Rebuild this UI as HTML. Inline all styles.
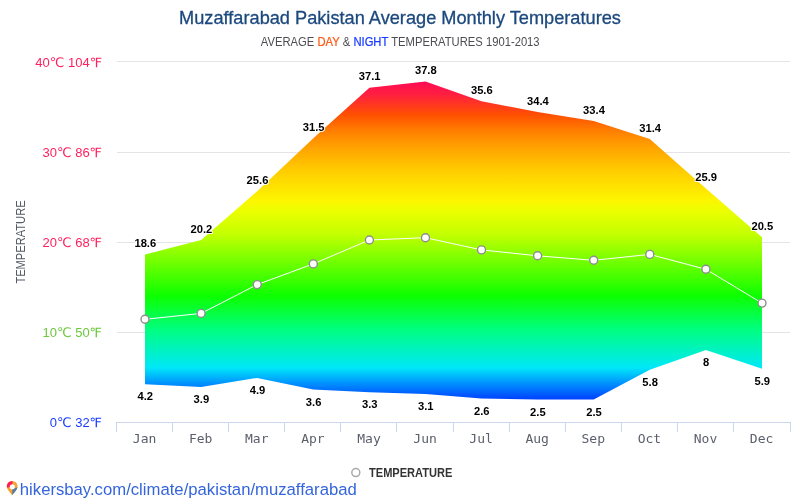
<!DOCTYPE html>
<html><head><meta charset="utf-8"><title>Muzaffarabad Pakistan Average Monthly Temperatures</title>
<style>
html,body{margin:0;padding:0;background:#fff;}
body{width:800px;height:500px;overflow:hidden;position:relative;font-family:"Liberation Sans",sans-serif;}
svg{position:absolute;left:0;top:0;display:block}
text{font-family:"Liberation Sans","DejaVu Sans","Noto Sans CJK SC",sans-serif}
.title{font-size:18.2px;fill:#1b487d;stroke:#1b487d;stroke-width:0.3px}
.sub{font-size:12.4px;fill:#4c4c52}
.yl{font-size:13px;text-anchor:end}
.xl{font-family:"DejaVu Sans Mono","Liberation Mono",monospace;font-size:13px;fill:#5a5f6b;text-anchor:middle}
.dl{font-size:11.2px;font-weight:bold;fill:#000;text-anchor:middle;stroke:#fff;stroke-width:2px;paint-order:stroke;stroke-linejoin:round}
.yt{font-size:12.3px;fill:#555a66;text-anchor:middle}
.lg{font-size:12.3px;font-weight:bold;fill:#333}
.url{font-size:16.7px;fill:#3565dc}
</style></head><body>
<svg width="800" height="500" viewBox="0 0 800 500">
<defs><linearGradient id="g" gradientUnits="userSpaceOnUse" x1="0" y1="81.4" x2="0" y2="399.5">
<stop offset="0" stop-color="#ff0a55"/>
<stop offset="0.042" stop-color="#ff2040"/>
<stop offset="0.105" stop-color="#ff5000"/>
<stop offset="0.155" stop-color="#ff7e00"/>
<stop offset="0.21" stop-color="#ffa400"/>
<stop offset="0.28" stop-color="#ffcc00"/>
<stop offset="0.375" stop-color="#fcf600"/>
<stop offset="0.41" stop-color="#eaff00"/>
<stop offset="0.48" stop-color="#c4ff00"/>
<stop offset="0.675" stop-color="#0cff00"/>
<stop offset="0.78" stop-color="#00ff80"/>
<stop offset="0.9" stop-color="#00e8f8"/>
<stop offset="0.95" stop-color="#0090ff"/>
<stop offset="1" stop-color="#0040ff"/>
</linearGradient></defs>
<rect width="800" height="500" fill="#fff"/>
<path d="M117 61.5H790" stroke="#e4e4e6" stroke-width="1" fill="none"/>
<path d="M117 152.5H790" stroke="#e4e4e6" stroke-width="1" fill="none"/>
<path d="M117 242.5H790" stroke="#e4e4e6" stroke-width="1" fill="none"/>
<path d="M117 332.5H790" stroke="#e4e4e6" stroke-width="1" fill="none"/>
<path d="M116 422.5H791" stroke="#ccd6eb" stroke-width="1" fill="none"/>
<path d="M116.5 422V432" stroke="#ccd6eb" stroke-width="1" fill="none"/>
<path d="M172.5 422V432" stroke="#ccd6eb" stroke-width="1" fill="none"/>
<path d="M228.5 422V432" stroke="#ccd6eb" stroke-width="1" fill="none"/>
<path d="M284.5 422V432" stroke="#ccd6eb" stroke-width="1" fill="none"/>
<path d="M340.5 422V432" stroke="#ccd6eb" stroke-width="1" fill="none"/>
<path d="M396.5 422V432" stroke="#ccd6eb" stroke-width="1" fill="none"/>
<path d="M453.5 422V432" stroke="#ccd6eb" stroke-width="1" fill="none"/>
<path d="M509.5 422V432" stroke="#ccd6eb" stroke-width="1" fill="none"/>
<path d="M565.5 422V432" stroke="#ccd6eb" stroke-width="1" fill="none"/>
<path d="M621.5 422V432" stroke="#ccd6eb" stroke-width="1" fill="none"/>
<path d="M677.5 422V432" stroke="#ccd6eb" stroke-width="1" fill="none"/>
<path d="M733.5 422V432" stroke="#ccd6eb" stroke-width="1" fill="none"/>
<path d="M790.5 422V432" stroke="#ccd6eb" stroke-width="1" fill="none"/>
<path d="M145.0 254.4 L201.1 240.0 L257.2 191.3 L313.3 138.2 L369.4 87.7 L425.5 81.4 L481.5 101.2 L537.6 112.1 L593.7 121.1 L649.8 139.1 L705.9 188.6 L762.0 237.3 L762.0 368.8 L705.9 349.9 L649.8 369.7 L593.7 399.5 L537.6 399.5 L481.5 398.6 L425.5 394.1 L369.4 392.3 L313.3 389.6 L257.2 377.9 L201.1 386.9 L145.0 384.2Z" fill="url(#g)"/>
<path d="M145.0 319.3 L201.1 313.4 L257.2 284.6 L313.3 263.9 L369.4 240.0 L425.5 237.7 L481.5 249.9 L537.6 255.8 L593.7 260.3 L649.8 254.4 L705.9 269.3 L762.0 303.1" fill="none" stroke="#fff" stroke-width="1"/>
<circle cx="145.0" cy="319.3" r="4" fill="#fff" stroke="#8c8c8c" stroke-width="1.4"/>
<circle cx="201.1" cy="313.4" r="4" fill="#fff" stroke="#8c8c8c" stroke-width="1.4"/>
<circle cx="257.2" cy="284.6" r="4" fill="#fff" stroke="#8c8c8c" stroke-width="1.4"/>
<circle cx="313.3" cy="263.9" r="4" fill="#fff" stroke="#8c8c8c" stroke-width="1.4"/>
<circle cx="369.4" cy="240.0" r="4" fill="#fff" stroke="#8c8c8c" stroke-width="1.4"/>
<circle cx="425.5" cy="237.7" r="4" fill="#fff" stroke="#8c8c8c" stroke-width="1.4"/>
<circle cx="481.5" cy="249.9" r="4" fill="#fff" stroke="#8c8c8c" stroke-width="1.4"/>
<circle cx="537.6" cy="255.8" r="4" fill="#fff" stroke="#8c8c8c" stroke-width="1.4"/>
<circle cx="593.7" cy="260.3" r="4" fill="#fff" stroke="#8c8c8c" stroke-width="1.4"/>
<circle cx="649.8" cy="254.4" r="4" fill="#fff" stroke="#8c8c8c" stroke-width="1.4"/>
<circle cx="705.9" cy="269.3" r="4" fill="#fff" stroke="#8c8c8c" stroke-width="1.4"/>
<circle cx="762.0" cy="303.1" r="4" fill="#fff" stroke="#8c8c8c" stroke-width="1.4"/>
<text class="dl" x="145.3" y="247.0">18.6</text>
<text class="dl" x="145.3" y="400.2">4.2</text>
<text class="dl" x="201.4" y="232.6">20.2</text>
<text class="dl" x="201.4" y="402.9">3.9</text>
<text class="dl" x="257.5" y="183.9">25.6</text>
<text class="dl" x="257.5" y="393.9">4.9</text>
<text class="dl" x="313.6" y="130.8">31.5</text>
<text class="dl" x="313.6" y="405.6">3.6</text>
<text class="dl" x="369.7" y="80.3">37.1</text>
<text class="dl" x="369.7" y="408.3">3.3</text>
<text class="dl" x="425.8" y="74.0">37.8</text>
<text class="dl" x="425.8" y="410.1">3.1</text>
<text class="dl" x="481.8" y="93.8">35.6</text>
<text class="dl" x="481.8" y="414.6">2.6</text>
<text class="dl" x="537.9" y="104.7">34.4</text>
<text class="dl" x="537.9" y="415.5">2.5</text>
<text class="dl" x="594.0" y="113.7">33.4</text>
<text class="dl" x="594.0" y="415.5">2.5</text>
<text class="dl" x="650.1" y="131.7">31.4</text>
<text class="dl" x="650.1" y="385.7">5.8</text>
<text class="dl" x="706.2" y="181.2">25.9</text>
<text class="dl" x="706.2" y="365.9">8</text>
<text class="dl" x="762.3" y="229.9">20.5</text>
<text class="dl" x="762.3" y="384.8">5.9</text>
<text class="xl" x="144.6" y="442.5">Jan</text>
<text class="xl" x="200.7" y="442.5">Feb</text>
<text class="xl" x="256.8" y="442.5">Mar</text>
<text class="xl" x="312.9" y="442.5">Apr</text>
<text class="xl" x="369.0" y="442.5">May</text>
<text class="xl" x="425.1" y="442.5">Jun</text>
<text class="xl" x="481.1" y="442.5">Jul</text>
<text class="xl" x="537.2" y="442.5">Aug</text>
<text class="xl" x="593.3" y="442.5">Sep</text>
<text class="xl" x="649.4" y="442.5">Oct</text>
<text class="xl" x="705.5" y="442.5">Nov</text>
<text class="xl" x="761.6" y="442.5">Dec</text>
<text class="yl" x="102" y="66.6" fill="#ff1f5e">40℃ 104℉</text>
<text class="yl" x="102" y="156.7" fill="#ff1f5e">30℃ 86℉</text>
<text class="yl" x="102" y="246.8" fill="#ff1f5e">20℃ 68℉</text>
<text class="yl" x="102" y="336.9" fill="#6cc83c">10℃ 50℉</text>
<text class="yl" x="102" y="427.0" fill="#1a3cff">0℃ 32℉</text>
<text class="title" x="400" y="24" text-anchor="middle">Muzaffarabad Pakistan Average Monthly Temperatures</text>
<text class="sub" transform="translate(400.2 46) scale(0.906 1)" text-anchor="middle">AVERAGE <tspan fill="#ff5a14" stroke="#ff5a14" stroke-width="0.25">DAY</tspan> &amp; <tspan fill="#1a3cff" stroke="#1a3cff" stroke-width="0.25">NIGHT</tspan> TEMPERATURES 1901-2013</text>
<text class="yt" transform="translate(25.2 242) rotate(-90) scale(0.905 1)">TEMPERATURE</text>
<circle cx="355.8" cy="472.6" r="4" fill="#fff" stroke="#aaa" stroke-width="1.5"/>
<text class="lg" transform="translate(369 476.800) scale(0.9 1)">TEMPERATURE</text>
<g>
<clipPath id="pc"><path d="M12.2 480.9a5.4 5.4 0 0 1 5.4 5.4c0 3.3-3.700 6.500-5.400 8.900c-1.700-2.400-5.400-5.600-5.400-8.900a5.400 5.400 0 0 1 5.400-5.400zM12.300 484.200a2.600 2.600 0 1 0 0 5.200a2.600 2.600 0 1 0 0-5.200z" clip-rule="evenodd"/></clipPath>
<g clip-path="url(#pc)">
<rect x="6" y="480" width="13" height="16" fill="#f9a133"/>
<path d="M12.3 486.800L5.500 487.800L5.500 479L12.600 479Z" fill="#ff1d58"/>
<path d="M12.2 489L18.500 487.200L18.500 496L12.300 496Z" fill="#4f7dab"/>
</g></g>
<text class="url" x="19.8" y="494.5">hikersbay.com/climate/pakistan/muzaffarabad</text>
</svg></body></html>
